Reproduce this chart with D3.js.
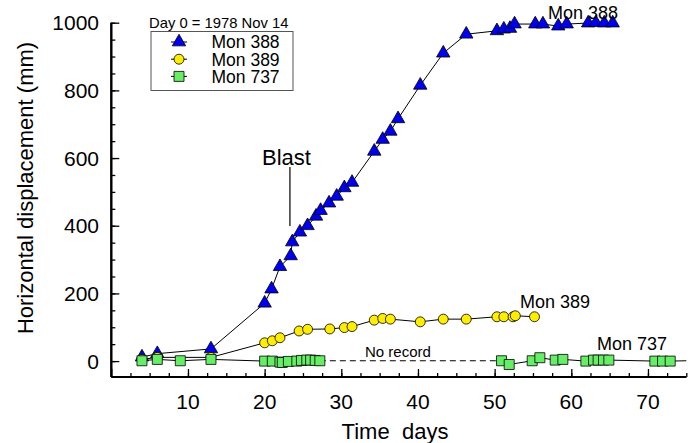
<!DOCTYPE html>
<html>
<head>
<meta charset="utf-8">
<script src="https://d3js.org/d3.v7.min.js"></script>
<style>
body { margin: 0; background: #fff; }
text { font-family: "Liberation Sans", Arial, Helvetica, sans-serif; fill: #000; white-space: pre; }
</style>
</head>
<body>
<svg id="chart" width="694" height="443"></svg>
<script>
// day, displacement (mm)
var mon388Days = [4, 6, 13, 20, 20.9, 22, 23.4, 23.6, 24.6, 25.6, 26.7, 27.3, 28.4, 29.4, 30.4, 31.4,
                  34.3, 35.4, 36.4, 37.4, 40.3, 43.3, 46.3, 50.3, 51.2, 52.0, 52.6, 55.3, 56.3, 58.3, 59.4,
                  62.2, 63.2, 64.3, 65.4];
var mon388Vals = [12, 22, 36, 171, 213, 279, 311, 352, 381, 400, 428, 445, 467, 487, 512, 528,
                  620, 655, 679, 716, 815, 910, 966, 976, 981, 983, 996, 996, 996, 990, 996,
                  999, 1000, 999, 999];

var mon389Days = [4, 6, 13, 20, 21, 22, 24.5, 25.6, 28.5, 30.4, 31.4, 34.3, 35.4, 36.4,
                  40.3, 43.3, 46.3, 50.3, 51.2, 52.4, 52.7, 55.2];
var mon389Vals = [5, 11, 11, 54, 60, 69, 89, 94, 95, 99, 102, 121, 126, 124,
                  116, 124, 124, 131, 131, 131, 134, 131];

var mon737Days = [4, 6, 9, 13, 20, 21, 22, 22.3, 23.1, 24.2, 24.8, 25.5, 26, 26.6, 27.2];
var mon737Vals = [1, 5, 1, 5, 0, 0, -3, -4, -1, 0, 2, 3, 3, 2, 1];
var mon737LateDays = [50.9, 51.9, 54.9, 55.9, 57.9, 58.9, 61.9, 62.9, 63.5, 64.2, 64.9, 70.9, 71.9, 72.9];
var mon737LateVals = [1, -10, 1, 10, 3, 5, 0, 3, 3, 3, 3, 0, 0, 0];

var xTicks = [10, 20, 30, 40, 50, 60, 70];
var yTicks = [0, 200, 400, 600, 800, 1000];

var svg = d3.select("#chart");
var pLeft = 111.3, pRight = 686.3, pTop = 22.7, pBottom = 377;

var x = d3.scaleLinear().domain([0, 75]).range([pLeft, pRight]);
var y = d3.scaleLinear().domain([-47, 1000]).range([pBottom, pTop]);

svg.append("defs").append("clipPath").attr("id", "clip")
  .append("rect").attr("x", pLeft).attr("y", 0).attr("width", pRight - pLeft + 8).attr("height", pBottom);

// axes, ticks inward
var xMinor = d3.axisTop(x).tickValues(d3.range(2.5, 75.1, 2.5)).tickSize(4).tickFormat("");
var xMajor = d3.axisTop(x).tickValues(d3.range(0, 75.1, 10)).tickSize(8).tickFormat("");
var yMinor = d3.axisRight(y).tickValues(d3.range(-50, 1000.1, 50).filter(function (v) { return v > -47; })).tickSize(4).tickFormat("");
var yMajor = d3.axisRight(y).tickValues(yTicks).tickSize(8).tickFormat("");

[xMinor, xMajor].forEach(function (ax) {
  svg.append("g").attr("transform", "translate(0," + pBottom + ")").call(ax)
    .call(function (g) { g.selectAll("line").attr("stroke-width", 1.3); g.select(".domain").attr("stroke-width", 2).attr("d", "M" + pLeft + ",0H" + pRight); });
});
[yMinor, yMajor].forEach(function (ax) {
  svg.append("g").attr("transform", "translate(" + pLeft + ",0)").call(ax)
    .call(function (g) { g.selectAll("line").attr("stroke-width", 1.3); g.select(".domain").attr("stroke-width", 2).attr("d", "M0," + pTop + "V" + pBottom); });
});

svg.append("g").selectAll("text").data(xTicks).join("text")
  .attr("x", function (d) { return x(d); }).attr("y", 409)
  .attr("text-anchor", "middle").attr("font-size", 21).text(function (d) { return d; });
svg.append("g").selectAll("text").data(yTicks).join("text")
  .attr("x", 99).attr("y", function (d) { return y(d) + 7.5; })
  .attr("text-anchor", "end").attr("font-size", 21).text(function (d) { return d; });

svg.append("text").attr("x", 395).attr("y", 439).attr("text-anchor", "middle")
  .attr("font-size", 22).text("Time  days");
svg.append("text").attr("transform", "translate(33,188) rotate(-90)").attr("text-anchor", "middle")
  .attr("font-size", 22).text("Horizontal displacement (mm)");

var plot = svg.append("g").attr("clip-path", "url(#clip)");
var line = d3.line().x(function (d) { return x(d[0]); }).y(function (d) { return y(d[1]); });

function zipData(days, vals) { return days.map(function (d, i) { return [d, vals[i]]; }); }

var tri = d3.symbol().type(d3.symbolTriangle).size(78);
var circ = d3.symbol().type(d3.symbolCircle).size(78);
var sq = d3.symbol().type(d3.symbolSquare).size(100);

function series(data, sym, fill, extraLine) {
  plot.append("path").datum(extraLine || data).attr("d", line)
    .attr("fill", "none").attr("stroke", "#000").attr("stroke-width", 1);
  plot.append("g").selectAll("path").data(data).join("path")
    .attr("transform", function (d) { return "translate(" + x(d[0]) + "," + y(d[1]) + ")"; })
    .attr("d", sym).attr("fill", fill).attr("stroke", "#000").attr("stroke-width", 0.8);
}

series(zipData(mon388Days, mon388Vals), tri, "#0000ee");
series(zipData(mon389Days, mon389Vals), circ, "#ffee00");

// Mon 737: dashed gap where no record
var early = zipData(mon737Days, mon737Vals);
var late = zipData(mon737LateDays, mon737LateVals);
plot.append("path").datum([early[early.length - 1], late[0]]).attr("d", line)
  .attr("fill", "none").attr("stroke", "#000").attr("stroke-width", 1).attr("stroke-dasharray", "6,4");
series(early, sq, "#66ee66");
series(late, sq, "#66ee66", late.concat([[75, 1]]));

// annotations
svg.append("text").attr("x", 548).attr("y", 18.5).attr("font-size", 18).text("Mon 388");
svg.append("text").attr("x", 520).attr("y", 307.5).attr("font-size", 18).text("Mon 389");
svg.append("text").attr("x", 597).attr("y", 349.5).attr("font-size", 18).text("Mon 737");
svg.append("text").attr("x", 365).attr("y", 357).attr("font-size", 15).text("No record");
svg.append("text").attr("x", 262).attr("y", 165).attr("font-size", 22).text("Blast");
svg.append("line").attr("x1", x(23.3)).attr("x2", x(23.3)).attr("y1", 167).attr("y2", 226)
  .attr("stroke", "#000").attr("stroke-width", 1.2);

// legend
svg.append("text").attr("x", 149).attr("y", 28).attr("font-size", 14.8).text("Day 0 = 1978 Nov 14");
svg.append("rect").attr("x", 151).attr("y", 31.5).attr("width", 142).attr("height", 59)
  .attr("fill", "#fff").attr("stroke", "#555").attr("stroke-width", 1);
var legendItems = [["Mon 388", tri, "#0000ee"], ["Mon 389", circ, "#ffee00"], ["Mon 737", sq, "#66ee66"]];
var lg = svg.append("g").selectAll("g").data(legendItems).join("g")
  .attr("transform", function (d, i) { return "translate(179," + (42 + i * 17.2) + ")"; });
lg.append("line").attr("x1", -8).attr("x2", 8).attr("stroke", "#000").attr("stroke-width", 1);
lg.append("path").attr("d", function (d) { return d[1](); }).attr("fill", function (d) { return d[2]; })
  .attr("stroke", "#000").attr("stroke-width", 0.8);
lg.append("text").attr("x", 32.5).attr("y", 6.3).attr("font-size", 17.5).text(function (d) { return d[0]; });
</script>
</body>
</html>
